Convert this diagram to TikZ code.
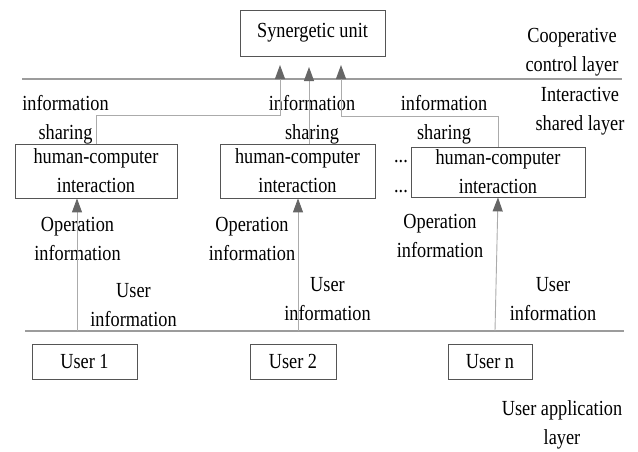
\documentclass[tikz,border=0pt]{standalone}
\usepackage{fontspec}
\setmainfont{Liberation Serif}[FakeStretch=0.85]
\usetikzlibrary{arrows.meta}
\definecolor{linegray}{HTML}{ABABAB}
\definecolor{rulegray}{HTML}{9C9C9C}
\definecolor{boxgray}{HTML}{555555}
\definecolor{headgray}{HTML}{666666}
\tikzset{
  unit/.style={draw=boxgray, line width=0.8pt, inner sep=0pt, align=center},
  lbl/.style={inner sep=0pt, align=center},
  flow/.style={draw=linegray, line width=0.9pt, -{Triangle[length=14pt,width=10pt,color=headgray]}},
  layerline/.style={draw=rulegray, line width=1.6pt}
}

\begin{document}
\begin{tikzpicture}[x=1pt,y=-1pt,font=\fontsize{21.5}{29}\selectfont]
    \useasboundingbox (0,0) rectangle (638,451);
    \draw[layerline] (22,79) -- (622,79);
    \draw[layerline] (25,331) -- (624,331);

    \node[unit, minimum width=145pt, minimum height=46pt] (syn) at (312.5,33) {Synergetic unit};
    \node[unit, minimum width=162pt, minimum height=54pt] (hci1) at (96,171) {human-computer\\interaction};
    \node[unit, minimum width=155pt, minimum height=54pt] (hci2) at (297.5,171) {human-computer\\interaction};
    \node[unit, minimum width=174pt, minimum height=50pt] (hci3) at (498,172) {human-computer\\interaction};
    \node[unit, minimum width=105pt, minimum height=35pt] (user1) at (84.5,361.5) {User 1};
    \node[unit, minimum width=86pt, minimum height=35pt] (user2) at (293,361.5) {User 2};
    \node[unit, minimum width=84pt, minimum height=35pt] (usern) at (490,361.5) {User n};

    \node[lbl] (coop) at (572,52) {Cooperative\\control layer};
    \node[lbl] (inter) at (580,111.5) {Interactive\\shared layer};
    \node[lbl] (app) at (562,425) {User application\\layer};
    \node[lbl] (share1) at (65.5,120) {information\\sharing};
    \node[lbl] (share2) at (312,120) {information\\sharing};
    \node[lbl] (share3) at (444,120) {information\\sharing};
    \node[lbl] (op1) at (77.5,238.5) {Operation\\information};
    \node[lbl] (op2) at (252,238.5) {Operation\\information};
    \node[lbl] (op3) at (440,236) {Operation\\information};
    \node[lbl] (ui1) at (133.5,305) {User\\information};
    \node[lbl] (ui2) at (327.5,299) {User\\information};
    \node[lbl] (ui3) at (553,299) {User\\information};
    \node[lbl] (dots1) at (401,162) {...};
    \node[lbl] (dots2) at (401,192) {...};

    \coordinate (tip1) at (280,65);
    \coordinate (tip2) at (309,67);
    \coordinate (tip3) at (341,65);
    \draw[flow] (hci1.north) -- ++(0,-28) -| (tip1);
    \draw[flow] (hci2.north -| tip2) -- (tip2);
    \draw[flow] (hci3.north) -- ++(0,-30) -| (tip3);

    \coordinate (foot1) at (77,331);
    \coordinate (foot2) at (298,331);
    \coordinate (foot3) at (495,331);
    \draw[flow] (foot1) -- (foot1 |- hci1.south);
    \draw[flow] (foot2) -- (foot2 |- hci2.south);
    \draw[flow] (foot3) -- (hci3.south);
\end{tikzpicture}
\end{document}
